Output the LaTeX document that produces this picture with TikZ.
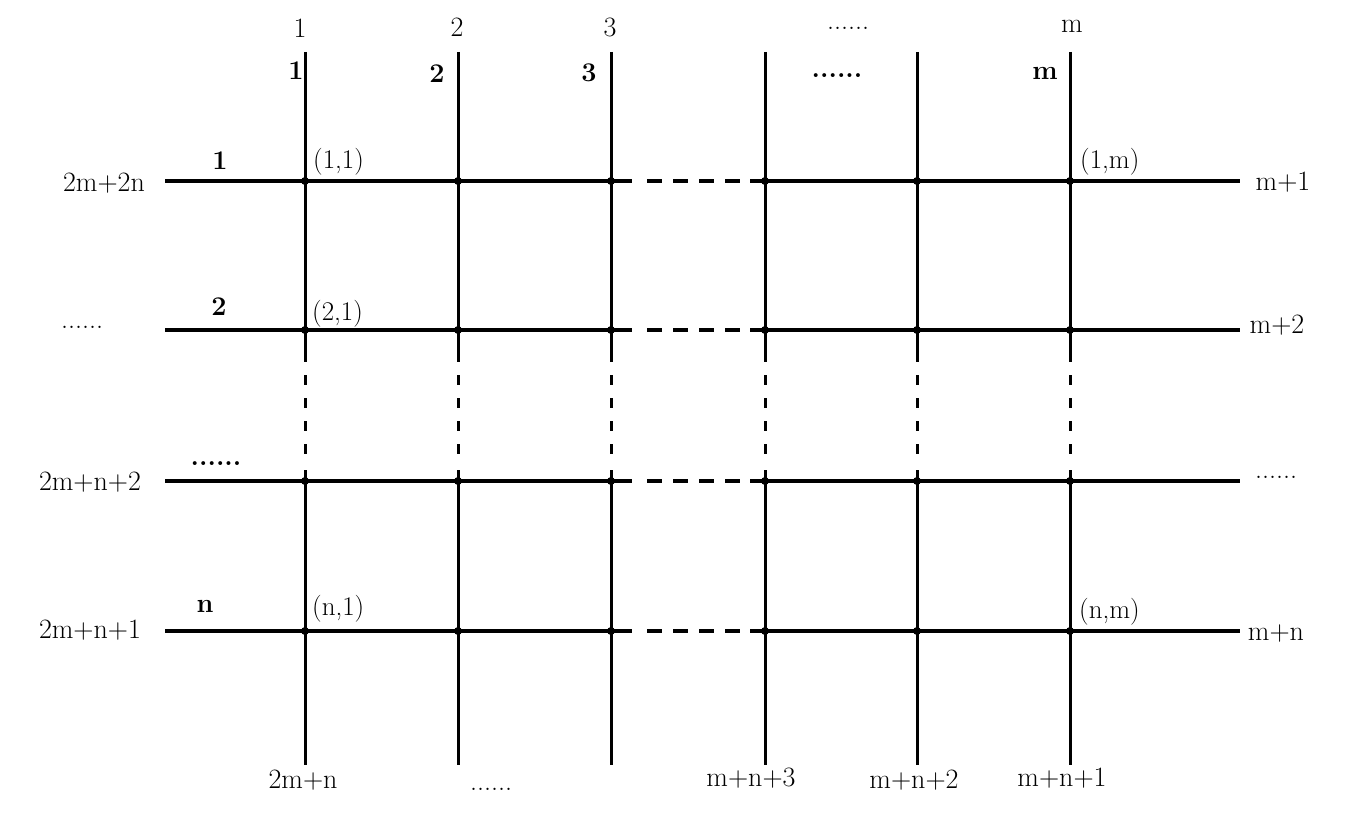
\documentclass[tikz,border=0pt]{standalone}
\usepackage{fontspec}
\begin{document}
\begin{tikzpicture}[x=1pt,y=-1pt,
  lbl/.style={inner sep=0pt, anchor=base, font=\fontsize{28}{32}\selectfont},
  blbl/.style={inner sep=0pt, anchor=base, font=\fontsize{27}{32}\selectfont\bfseries},
  plbl/.style={inner sep=0pt, anchor=base west, font=\fontsize{27}{32}\selectfont},
  hline/.style={line width=4pt},
  vline/.style={line width=3pt},
  hdash/.style={line width=4pt, dash pattern=on 15pt off 11pt},
  vdash/.style={line width=3pt, dash pattern=on 10pt off 13pt},
  dot/.style={circle, fill=black, draw=none, inner sep=0pt, minimum size=8pt}]
\useasboundingbox[fill=white] (0,0) rectangle (1347,824);

% coordinates
\foreach \x [count=\i] in {305,458,611,765,917,1070} {
  \coordinate (top\i) at (\x,52);
  \coordinate (vs\i)  at (\x,362);
  \coordinate (vds\i) at (\x,375);
  \coordinate (vde\i) at (\x,455);
  \coordinate (ve\i)  at (\x,470);
  \coordinate (bot\i) at (\x,765);
}
\foreach \y [count=\j] in {181,330,481,631} {
  \coordinate (L\j)   at (165,\y);
  \coordinate (hs\j)  at (632,\y);
  \coordinate (hds\j) at (647,\y);
  \coordinate (hde\j) at (740,\y);
  \coordinate (he\j)  at (750,\y);
  \coordinate (R\j)   at (1240,\y);
}

% vertical lines
\foreach \i in {1,...,6} {
  \draw[vline] (top\i) -- (vs\i);
  \draw[vdash] (vds\i) -- (vde\i);
  \draw[vline] (ve\i) -- (bot\i);
}
% horizontal lines
\foreach \j in {1,...,4} {
  \draw[hline] (L\j) -- (hs\j);
  \draw[hdash] (hds\j) -- (hde\j);
  \draw[hline] (he\j) -- (R\j);
}
% dots
\foreach \x [count=\i] in {305,458,611,765,917,1070} {
  \foreach \y [count=\j] in {181,330,481,631} {
    \node[dot] (p\j-\i) at (\x,\y) {};
  }
}

% top labels
\node[lbl] (t1) at (300,38) {1};
\node[lbl] (t2) at (457,37) {2};
\node[lbl] (t3) at (610,37) {3};
\node[lbl] (tdots) at (848,30) {......};
\node[lbl] (tm) at (1072,33) {m};
\node[blbl] (b1) at (296,80) {1};
\node[blbl] (b2) at (437,83) {2};
\node[blbl] (b3) at (589,82) {3};
\node[blbl] (bdots) at (837,78) {......};
\node[blbl] (bm) at (1045,80) {m};

% row bold labels
\node[blbl] (r1) at (220,170) {1};
\node[blbl] (r2) at (219,315) {2};
\node[blbl] (rdots) at (216,465) {......};
\node[blbl] (rn) at (205,612) {n};

% left labels
\node[lbl] (l1) at (104,191) {2m+2n};
\node[lbl] (l2) at (82,328) {......};
\node[lbl] (l3) at (90,490) {2m+n+2};
\node[lbl] (l4) at (90,638) {2m+n+1};

% right labels
\node[lbl] (q1) at (1283,190) {m+1};
\node[lbl] (q2) at (1277,333) {m+2};
\node[lbl] (q3) at (1276,478) {......};
\node[lbl] (q4) at (1276,640) {m+n};

% bottom labels
\node[lbl] (d1) at (303,788) {2m+n};
\node[lbl] (d2) at (491,790) {......};
\node[lbl] (d3) at (751,786) {m+n+3};
\node[lbl] (d4) at (914,788) {m+n+2};
\node[lbl] (d5) at (1062,786) {m+n+1};

% intersection labels
\node[plbl] (i11) at (313,168) {(1,1)};
\node[plbl] (i21) at (312,320) {(2,1)};
\node[plbl] (in1) at (312,615) {(n,1)};
\node[plbl] (i1m) at (1080,168) {(1,m)};
\node[plbl] (inm) at (1079,618) {(n,m)};
\end{tikzpicture}
\end{document}
